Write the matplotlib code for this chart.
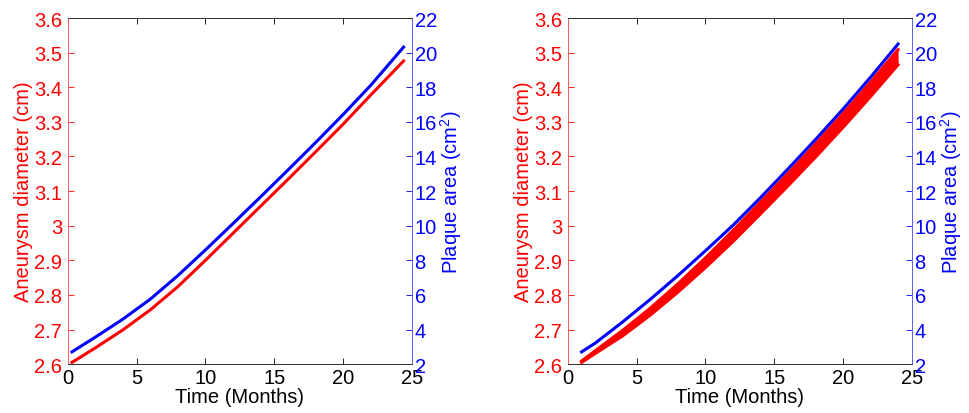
import matplotlib
matplotlib.use("Agg")
import matplotlib.pyplot as plt
import numpy as np

plt.rcParams['font.family'] = ['Liberation Sans', 'DejaVu Sans']
plt.rcParams['font.size'] = 14.5
plt.rcParams['mathtext.default'] = 'regular'

# left panel: single run
t_left = [0.3, 2, 4, 6, 8, 10, 12, 14, 16, 18, 20, 22, 24.4]
diam_left = [2.605, 2.647, 2.699, 2.757, 2.824, 2.900, 2.978, 3.056, 3.134, 3.213, 3.293, 3.377, 3.476]
plaque_left = [2.71, 3.56, 4.60, 5.76, 7.12, 8.60, 10.12, 11.66, 13.22, 14.80, 16.42, 18.10, 20.32]

# right panel: spread of runs (lower / upper edge of the red band)
t_right = [1, 2, 4, 6, 8, 10, 12, 14, 16, 18, 20, 22, 24]
diam_right_lo = [2.605, 2.631, 2.682, 2.742, 2.808, 2.879, 2.954, 3.034, 3.115, 3.198, 3.284, 3.373, 3.465]
diam_right_hi = [2.609, 2.639, 2.698, 2.762, 2.832, 2.907, 2.986, 3.068, 3.151, 3.236, 3.324, 3.415, 3.509]
plaque_right = [2.71, 3.22, 4.45, 5.75, 7.12, 8.55, 10.02, 11.62, 13.28, 14.98, 16.74, 18.58, 20.50]

RED = '#ff0000'
BLUE = '#0000ff'
LW = 2.2


def style_axes(ax, ax2):
    ax.set_xlim(0, 25)
    ax.set_xticks(range(0, 26, 5))
    ax.set_ylim(2.6, 3.6)
    ax.set_yticks(np.arange(2.6, 3.61, 0.1))
    ax.set_yticklabels(['2.6', '2.7', '2.8', '2.9', '3', '3.1', '3.2', '3.3', '3.4', '3.5', '3.6'])
    ax2.set_ylim(2, 22)
    ax2.set_yticks(range(2, 23, 2))

    ax.tick_params(axis='x', direction='in', top=True, colors='black', length=4, width=0.6, pad=3)
    ax.tick_params(axis='y', direction='in', colors=RED, length=4, width=0.6, pad=4)
    ax2.tick_params(axis='y', direction='in', colors=BLUE, length=4, width=0.6, pad=2)

    for a in (ax, ax2):
        a.spines['top'].set_color('#333333')
        a.spines['bottom'].set_color('#333333')
        a.spines['left'].set_color('#ff6060')
        a.spines['right'].set_color('#6060ff')
        for s in a.spines.values():
            s.set_linewidth(0.7)

    ax.set_xlabel('Time (Months)', labelpad=0)
    ax.set_ylabel('Aneurysm diameter (cm)', color=RED, labelpad=1)
    ax2.set_ylabel('Plaque area (cm$^2$)', color=BLUE, rotation=90, labelpad=1)


fig = plt.figure(figsize=(9.69, 4.14), dpi=100)

ax1 = fig.add_axes([0.070, 0.118, 0.355, 0.836])
ax1b = ax1.twinx()
ax1.plot(t_left, diam_left, color=RED, lw=LW)
ax1b.plot(t_left, plaque_left, color=BLUE, lw=LW)
style_axes(ax1, ax1b)

ax2 = fig.add_axes([0.586, 0.118, 0.355, 0.836])
ax2b = ax2.twinx()
ax2.fill_between(t_right, diam_right_lo, diam_right_hi, color=RED, lw=0)
ax2.plot(t_right, diam_right_lo, color=RED, lw=LW)
ax2.plot(t_right, diam_right_hi, color=RED, lw=LW)
ax2b.plot(t_right, plaque_right, color=BLUE, lw=LW)
style_axes(ax2, ax2b)

fig.savefig('out.png', dpi=100)
